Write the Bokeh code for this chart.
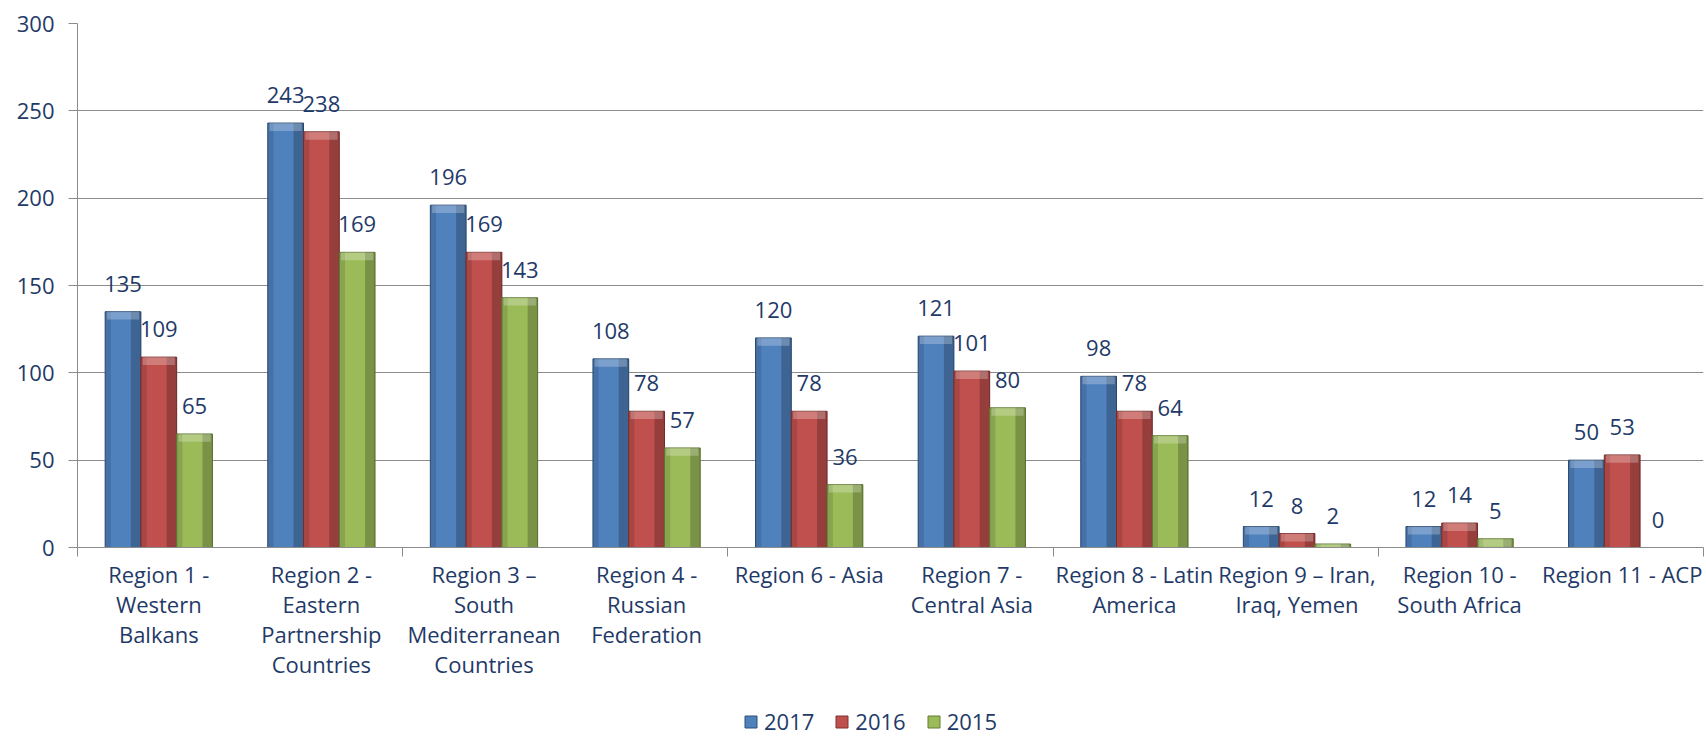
import numpy as np
from bokeh.plotting import figure
from bokeh.layouts import column
from bokeh.models import ColumnDataSource, FixedTicker, Range1d, Legend, LegendItem
from bokeh.transform import dodge
from bokeh.core.properties import value
from bokeh.embed import file_html
from bokeh.resources import INLINE

# ---- data ----
categories = [
    "Region 1 -\nWestern\nBalkans",
    "Region 2 -\nEastern\nPartnership\nCountries",
    "Region 3 \u2013\nSouth\nMediterranean\nCountries",
    "Region 4 -\nRussian\nFederation",
    "Region 6 - Asia",
    "Region 7 -\nCentral Asia",
    "Region 8 - Latin\nAmerica",
    "Region 9 \u2013 Iran,\nIraq, Yemen",
    "Region 10 -\nSouth Africa",
    "Region 11 - ACP",
]
v2017 = [135, 243, 196, 108, 120, 121, 98, 12, 12, 50]
v2016 = [109, 238, 169, 78, 78, 101, 78, 8, 14, 53]
v2015 = [65, 169, 143, 57, 36, 80, 64, 2, 5, 0]
series = ["2017", "2016", "2015"]
y_ticks = [0, 50, 100, 150, 200, 250, 300]

# ---- styles ----
colors = ["#4F81BD", "#C0504D", "#9BBB59"]
edges = ["#2E4F78", "#7F302E", "#637C36"]
navy = "#1F3A68"
grid = "#8C8C8C"
FONT = "Open Sans"

n = len(categories)
values = [v2017, v2016, v2015]
data = {"x": np.arange(n) + 0.5}
for s, v in zip(series, values):
    arr = np.array(v, dtype=float)
    data["v" + s] = arr
    data["cap" + s] = np.maximum(arr - 4.5, 0)
    data["t" + s] = [str(int(a)) for a in v]
src = ColumnDataSource(data)

p = figure(width=1704, height=684, output_backend="svg", toolbar_location=None,
           x_range=Range1d(0, n), y_range=Range1d(0, 300),
           min_border_left=77, min_border_right=1, min_border_top=23,
           min_border_bottom=137)
p.outline_line_color = None
p.background_fill_color = "white"
p.border_fill_color = "white"

# axes
xa = p.xaxis[0]
xa.ticker = FixedTicker(ticks=list(data["x"]), minor_ticks=list(range(0, n + 1, 2)))
xa.major_label_overrides = {float(x): c for x, c in zip(data["x"], categories)}
xa.major_tick_line_color = None
xa.major_tick_out = 0
xa.major_tick_in = 0
xa.minor_tick_out = 9
xa.minor_tick_in = 0
xa.minor_tick_line_color = grid
xa.axis_line_color = grid
xa.major_label_standoff = 2
xa.major_label_text_font = FONT
xa.major_label_text_font_size = "22px"
xa.major_label_text_color = navy
xa.major_label_text_line_height = 1.0

ya = p.yaxis[0]
ya.ticker = FixedTicker(ticks=y_ticks)
ya.major_tick_out = 9
ya.major_tick_in = 0
ya.minor_tick_line_color = None
ya.major_tick_line_color = grid
ya.axis_line_color = grid
ya.major_label_standoff = 14
ya.major_label_text_font = FONT
ya.major_label_text_font_size = "22px"
ya.major_label_text_color = navy

p.xgrid.grid_line_color = None
p.ygrid.ticker = FixedTicker(ticks=y_ticks)
p.ygrid.grid_line_color = grid
p.ygrid.grid_line_width = 1

bw = 0.22
for k, s in enumerate(series):
    off = (k - 1) * bw
    p.vbar(x=dodge("x", off, range=p.x_range), top="v" + s, width=bw, source=src,
           fill_color=colors[k], line_color=edges[k], line_width=1)
    # bevel shading
    p.vbar(x=dodge("x", off + bw * 0.36, range=p.x_range), top="v" + s, width=bw * 0.28,
           source=src, fill_color="black", fill_alpha=0.22, line_color=None)
    p.vbar(x=dodge("x", off - bw * 0.42, range=p.x_range), top="v" + s, width=bw * 0.16,
           source=src, fill_color="black", fill_alpha=0.12, line_color=None)
    p.vbar(x=dodge("x", off, range=p.x_range), top="v" + s, bottom="cap" + s, width=bw * 0.9,
           source=src, fill_color="white", fill_alpha=0.25, line_color=None)
    p.text(x=dodge("x", off, range=p.x_range), y="v" + s, text="t" + s, source=src,
           text_align="center", text_baseline="alphabetic", y_offset=-28,
           text_font=value(FONT), text_font_size="22px", text_color=navy)

# ---- legend strip (its bars lie below its visible y range; only the legend shows) ----
pl = figure(width=1704, height=52, output_backend="svg", toolbar_location=None,
            x_range=Range1d(0, n), y_range=Range1d(1000, 1001), min_border=0,
            x_axis_location=None, y_axis_location=None)
pl.grid.visible = False
pl.outline_line_color = None
items = []
for k, s in enumerate(series):
    r = pl.vbar(x="x", top="v" + s, width=bw, source=src,
                fill_color=colors[k], line_color=edges[k])
    items.append(LegendItem(label=s, renderers=[r]))
legend = Legend(items=items, orientation="horizontal", location=(666, 0),
                glyph_width=15, glyph_height=15, label_standoff=6, spacing=20,
                padding=0, margin=0, border_line_color=None, background_fill_alpha=0,
                label_text_font=FONT, label_text_font_size="22px", label_text_color=navy)
pl.add_layout(legend)

layout = column(p, pl, spacing=0)
open("out.html", "w").write(file_html(layout, INLINE))
